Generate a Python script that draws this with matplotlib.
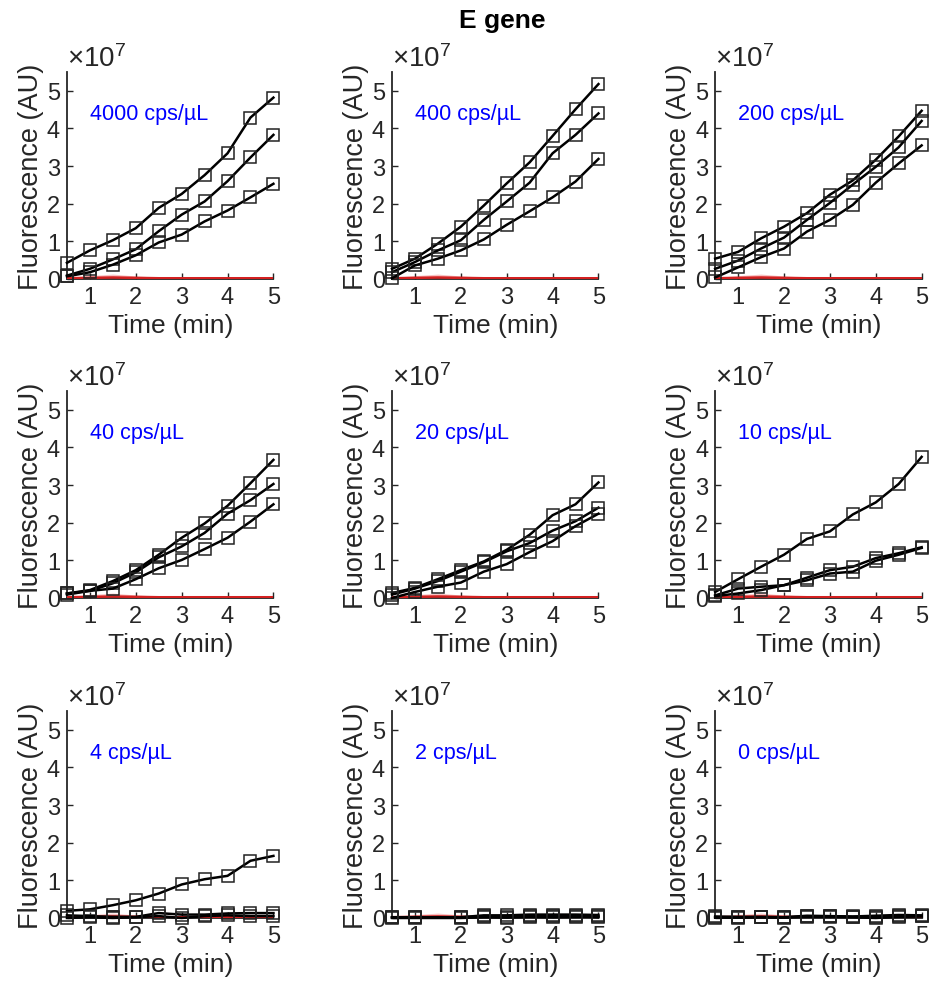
import numpy as np
import matplotlib
matplotlib.use("Agg")
import matplotlib.pyplot as plt

plt.rcParams["font.family"] = ["Liberation Sans", "DejaVu Sans"]
plt.rcParams["mathtext.fontset"] = "custom"
plt.rcParams["mathtext.rm"] = "Liberation Sans"
plt.rcParams["mathtext.default"] = "regular"

# time points (min)
time = [0.5, 1.0, 1.5, 2.0, 2.5, 3.0, 3.5, 4.0, 4.5, 5.0]
time_2cps = [0.5, 1.0, 2.0, 2.5, 3.0, 3.5, 4.0, 4.5, 5.0]

labels = ["4000 cps/µL", "400 cps/µL", "200 cps/µL",
          "40 cps/µL", "20 cps/µL", "10 cps/µL",
          "4 cps/µL", "2 cps/µL", "0 cps/µL"]

# fluorescence, units of 1e7 AU, three replicates per concentration
cps4000 = [[0.43, 0.76, 1.03, 1.35, 1.89, 2.26, 2.76, 3.34, 4.29, 4.82],
           [0.09, 0.27, 0.52, 0.79, 1.27, 1.71, 2.06, 2.60, 3.23, 3.83],
           [0.07, 0.18, 0.38, 0.63, 0.97, 1.18, 1.53, 1.82, 2.17, 2.53]]
cps400 = [[0.27, 0.54, 0.94, 1.39, 1.95, 2.54, 3.10, 3.80, 4.51, 5.18],
          [0.18, 0.45, 0.76, 1.03, 1.57, 2.06, 2.56, 3.34, 3.83, 4.40],
          [0.02, 0.36, 0.54, 0.76, 1.05, 1.44, 1.80, 2.17, 2.59, 3.19]]
cps200 = [[0.54, 0.72, 1.08, 1.39, 1.75, 2.24, 2.62, 3.17, 3.79, 4.47],
          [0.27, 0.49, 0.81, 1.10, 1.57, 2.02, 2.51, 2.98, 3.50, 4.20],
          [0.04, 0.31, 0.58, 0.81, 1.26, 1.57, 1.97, 2.56, 3.07, 3.55]]
cps40 = [[0.12, 0.21, 0.45, 0.74, 1.15, 1.60, 1.98, 2.45, 3.05, 3.67],
         [0.12, 0.19, 0.39, 0.68, 1.08, 1.37, 1.73, 2.24, 2.60, 3.03],
         [0.09, 0.19, 0.25, 0.50, 0.79, 1.01, 1.30, 1.60, 2.03, 2.49]]
cps20 = [[0.13, 0.27, 0.50, 0.74, 0.97, 1.28, 1.68, 2.20, 2.49, 3.07],
         [0.09, 0.25, 0.45, 0.70, 0.95, 1.24, 1.46, 1.79, 2.04, 2.40],
         [0.00, 0.16, 0.30, 0.41, 0.70, 0.90, 1.22, 1.51, 1.91, 2.24]]
cps10 = [[0.16, 0.50, 0.83, 1.15, 1.57, 1.77, 2.22, 2.54, 3.03, 3.75],
         [0.07, 0.25, 0.30, 0.34, 0.54, 0.74, 0.83, 1.06, 1.19, 1.35],
         [0.05, 0.12, 0.21, 0.34, 0.47, 0.65, 0.70, 0.99, 1.15, 1.33]]
cps4 = [[0.19, 0.23, 0.34, 0.47, 0.65, 0.89, 1.03, 1.12, 1.52, 1.65],
        [0.07, 0.05, 0.03, 0.03, 0.13, 0.09, 0.09, 0.12, 0.13, 0.13],
        [0.00, 0.02, 0.00, 0.02, 0.05, 0.00, 0.05, 0.07, 0.05, 0.05]]
cps2 = [[0.02, 0.02, 0.02, 0.07, 0.07, 0.09, 0.09, 0.09, 0.08],
        [0.02, 0.02, 0.02, 0.04, 0.03, 0.06, 0.06, 0.05, 0.02],
        [0.00, 0.00, 0.00, 0.02, 0.01, 0.03, 0.02, 0.03, 0.04]]
cps0 = [[0.04, 0.03, 0.03, 0.02, 0.06, 0.05, 0.04, 0.06, 0.08, 0.07],
        [0.02, 0.02, 0.02, 0.01, 0.04, 0.04, 0.03, 0.03, 0.04, 0.05],
        [0.01, 0.01, 0.02, 0.02, 0.03, 0.03, 0.02, 0.00, 0.03, 0.04]]

panels = [cps4000, cps400, cps200, cps40, cps20, cps10, cps4, cps2, cps0]
panel_times = [time] * 7 + [time_2cps, time]

# negative-control band (mean and upper/lower bound), units of 1e7
ntc_mean = [0.02, 0.03, 0.04, 0.03, 0.02, 0.02, 0.02, 0.02, 0.02, 0.02]
ntc_hi = [0.04, 0.09, 0.13, 0.08, 0.05, 0.05, 0.05, 0.05, 0.05, 0.05]
ntc_lo = [0.00, 0.00, 0.00, 0.00, 0.00, 0.00, 0.00, 0.00, 0.00, 0.00]

fig = plt.figure(figsize=(9.3, 9.95), dpi=100)

lefts = [0.072, 0.4215, 0.769]
bottoms = [0.7186, 0.398, 0.0764]
w, h = 0.222, 0.208

for i, reps in enumerate(panels):
    r, c = divmod(i, 3)
    ax = fig.add_axes([lefts[c], bottoms[r], w, h])
    ax.fill_between(time, np.array(ntc_lo) * 1e7, np.array(ntc_hi) * 1e7,
                    color="#f6a8a8", alpha=0.7, lw=0, zorder=1)
    ax.plot(time, np.array(ntc_mean) * 1e7, color="#d42020", lw=1.8, zorder=2.6)
    t = panel_times[i]
    for rep in reps:
        ax.plot(t, np.array(rep) * 1e7, color="black", lw=1.8,
                marker="s", ms=8, mfc="none", mec="#222222", mew=1.1,
                zorder=3, clip_on=False)
    ax.set_xlim(0.5, 5)
    ax.set_ylim(0, 5.5e7)
    ax.set_xticks([1, 2, 3, 4, 5])
    ax.set_yticks([0, 1e7, 2e7, 3e7, 4e7, 5e7])
    ax.set_yticklabels(["0", "1", "2", "3", "4", "5"])
    ax.tick_params(direction="in", length=4, width=1, labelsize=17,
                   colors="#262626", pad=5)
    for s in ["top", "right"]:
        ax.spines[s].set_visible(False)
    ax.spines["left"].set_color("#262626")
    ax.spines["bottom"].set_color("#262626")
    ax.spines["left"].set_linewidth(1.3)
    ax.spines["bottom"].set_linewidth(1.3)
    ax.set_xlabel("Time (min)", fontsize=19, color="#262626", labelpad=4)
    ax.set_ylabel("Fluorescence (AU)", fontsize=19.5, color="#262626", labelpad=2)
    ax.text(0.0, 1.0, r"$\times10^{7}$", transform=ax.transAxes,
            fontsize=20, color="#262626", ha="left", va="bottom")
    ax.text(1.0, 4.4e7, labels[i], color="blue", fontsize=15.5,
            ha="left", va="center")

fig.text(0.54, 0.979, "E gene", fontsize=19, fontweight="bold",
         ha="center", va="center")

fig.savefig("out.png", dpi=100)
